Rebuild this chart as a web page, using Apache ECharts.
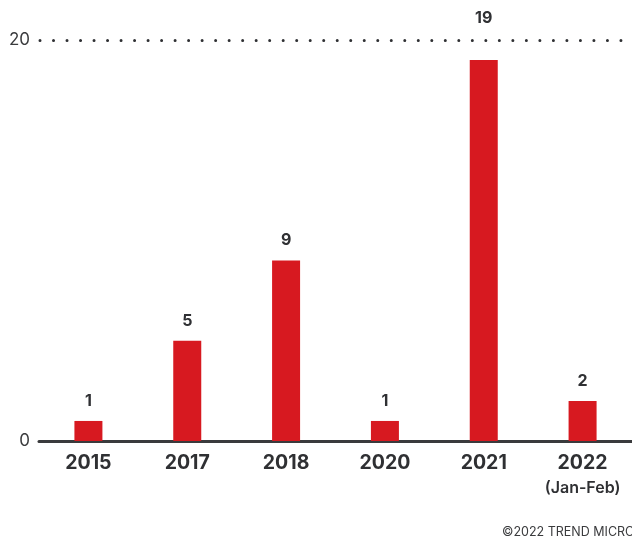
<!DOCTYPE html>
<html><head><meta charset="utf-8">
<script src="https://cdn.jsdelivr.net/npm/echarts@6/dist/echarts.min.js"></script>
<style>html,body{margin:0;padding:0;background:#fff}#c{width:632px;height:539px}</style>
</head><body><div id="c"></div>
<script>
const categories = ['2015', '2017', '2018', '2020', '2021', '2022'];
const subLabels = ['', '', '', '', '', '(Jan-Feb)'];
const values = [1, 5, 9, 1, 19, 2];
const yTicks = [0, 20];

const chart = echarts.init(document.getElementById('c'));
chart.setOption({
  animation: false,
  backgroundColor: '#fff',
  grid: { left: 39, right: -4, top: 40, bottom: 98, containLabel: false },
  xAxis: {
    type: 'category',
    data: categories,
    axisLine: { show: true, lineStyle: { color: '#3a3b3d', width: 3 } },
    axisTick: { show: false },
    axisLabel: {
      margin: 10,
      interval: 0,
      formatter: function (v, i) {
        const s = subLabels[i];
        return s ? '{y|' + v + '}\n{s|' + s + '}' : '{y|' + v + '}';
      },
      rich: {
        y: { fontFamily: 'Inter', fontWeight: 'bold', fontSize: 19.5, color: '#2f3033', lineHeight: 25 },
        s: { fontFamily: 'Inter', fontWeight: 600, fontSize: 16, color: '#2f3033', lineHeight: 24 }
      }
    }
  },
  yAxis: {
    type: 'value',
    min: yTicks[0],
    max: yTicks[yTicks.length - 1],
    interval: 20,
    axisLine: { show: false },
    axisTick: { show: false },
    axisLabel: { fontFamily: 'Inter', fontSize: 17, color: '#3a3b3d', margin: 9 },
    splitLine: {
      show: true,
      lineStyle: { color: '#2f3033', width: 3, type: [0.01, 13.5], cap: 'round', dashOffset: -1 }
    }
  },
  series: [{
    type: 'bar',
    data: values.map(function (v, i) {
      return i === 4 ? { value: v, label: { distance: 34 } } : v;
    }),
    barWidth: 28,
    itemStyle: { color: '#d71920' },
    label: {
      show: true,
      position: 'top',
      distance: 12,
      fontFamily: 'Inter',
      fontWeight: 'bold',
      fontSize: 16,
      color: '#2f3033'
    }
  }],
  graphic: [{
    type: 'text',
    left: 502,
    top: 526,
    style: { text: '©2022 TREND MICRO', fontFamily: 'Inter', fontSize: 12.5, fill: '#3a3b3d' }
  }]
});
</script></body></html>
